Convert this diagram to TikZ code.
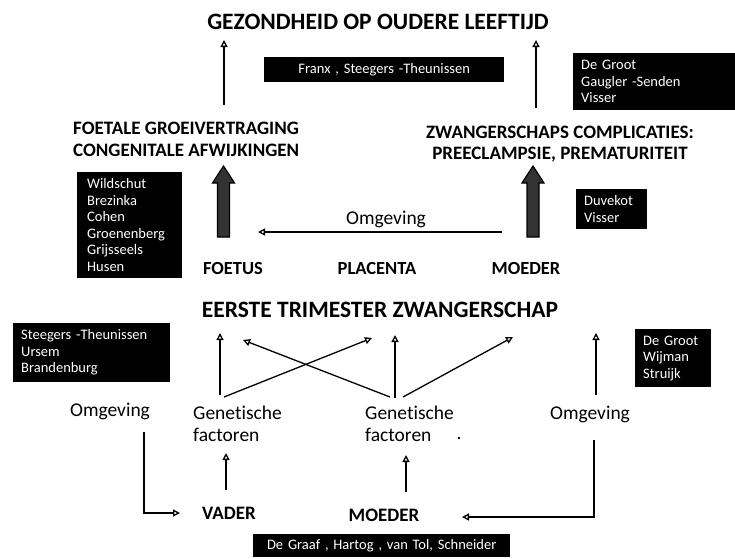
\documentclass[tikz,border=0pt]{standalone}
\usepackage{fontspec}
\setmainfont{Carlito}[Ligatures={NoCommon,NoContextual}]
\usetikzlibrary{arrows.meta,calc}
\begin{document}
\begin{tikzpicture}[x=1pt,y=-1pt,
  lbl/.style={inner sep=0pt,text depth=0pt},
  ttl/.style={lbl,font=\fontsize{23.5}{26}\selectfont\bfseries,text height=15.1pt},
  hd/.style={inner sep=0pt,font=\fontsize{19}{22}\selectfont\bfseries},
  sm/.style={lbl,font=\fontsize{18.5}{22}\selectfont\bfseries,text height=11.9pt},
  rg/.style={inner sep=0pt,font=\fontsize{19.5}{22}\selectfont},
  blk/.style={fill=black,text=white,inner ysep=0pt,anchor=north west,font=\fontsize{14.5}{16.5}\selectfont,align=left},
  arr/.style={line width=1.3pt,-{Triangle[open,length=7pt,width=7pt]}},
  fat/.style={draw=black,line width=1.2pt,fill=black!80}
]
\useasboundingbox (0,0) rectangle (735,558);

% black reference boxes
\node[blk,inner xsep=10pt,text width=85pt,minimum height=106pt] (bN) at (77,172) {Wildschut\\Brezinka\\Cohen\\Groenenberg\\Grijsseels\\Husen};
\node[blk,inner xsep=0pt,text width=240pt,align=center,minimum height=25pt] (bF) at (264,57) {Franx , Steegers -Theunissen};
\node[blk,inner xsep=8pt,text width=146pt,minimum height=57pt] (bG1) at (573,53) {De Groot\\Gaugler -Senden\\Visser};
\node[blk,inner xsep=8pt,text width=55pt,minimum height=40pt] (bD) at (576,189) {Duvekot\\Visser};
\node[blk,inner xsep=8pt,text width=141pt,minimum height=59pt] (bS) at (13,323) {Steegers -Theunissen\\Ursem\\Brandenburg};
\node[blk,inner xsep=8pt,text width=60pt,minimum height=58pt] (bG2) at (635,329) {De Groot\\Wijman\\Struijk};
\node[blk,inner xsep=0pt,text width=257pt,align=center,minimum height=23pt] (bH) at (253,534) {De Graaf , Hartog , van Tol, Schneider};

% labels
\node[ttl,anchor=base] (title) at (378,29.6) {GEZONDHEID OP OUDERE LEEFTIJD};
\node[hd,anchor=north west,align=left] (foetale) at (73,121.9) {FOETALE GROEIVERTRAGING\\CONGENITALE AFWIJKINGEN};
\node[hd,anchor=north,align=center,font=\fontsize{19}{21}\selectfont\bfseries] (zwang) at (560,125.8) {ZWANGERSCHAPS COMPLICATIES:\\PREECLAMPSIE, PREMATURITEIT};
\node[sm,anchor=base] (foetus) at (233,274) {FOETUS};
\node[sm,anchor=base] (placenta) at (377,274) {PLACENTA};
\node[sm,anchor=base] (moederA) at (526,274) {MOEDER};
\node[rg,anchor=base] (omgA) at (386,224.3) {Omgeving};
\node[ttl,anchor=base] (eerste) at (380,317.6) {EERSTE TRIMESTER ZWANGERSCHAP};
\node[rg,anchor=base] (omgL) at (110,416.5) {Omgeving};
\node[rg,anchor=north west,align=left] (genL) at (193,405.7) {Genetische\\factoren};
\node[rg,anchor=north west,align=left] (genM) at (365,405.7) {Genetische\\factoren};
\node[rg,anchor=base] (dot) at (459,439) {.};
\node[rg,anchor=base] (omgR) at (590,419.5) {Omgeving};
\node[hd,anchor=base] (vader) at (229,519.6) {VADER};
\node[hd,anchor=base] (moederB) at (384,521.5) {MOEDER};

% top arrows
\draw[arr] ($(foetale.north west)+(151,-16.9)$) -- ($(title.base)+(-154,10.4)$);
\draw[arr] ($(zwang.north)+(-24,-17.8)$) -- ($(title.base)+(158,10.4)$);

% thick arrows
\draw[fat] ($(foetus.base)+(-15.5,-37)$) -- ++(0,-54) -- ++(-5,0) -- ++(11,-17) -- ++(11,17) -- ++(-5,0) -- ++(0,54) -- cycle;
\draw[fat] ($(moederA.base)+(1,-37)$) -- ++(0,-54) -- ++(-5,0) -- ++(11,-17) -- ++(11,17) -- ++(-5,0) -- ++(0,54) -- cycle;

% placenta arrow
\draw[arr] ($(moederA.base)+(-24,-42)$) -- ($(foetus.base)+(25,-42)$);

% first trimester arrows
\draw[arr] ($(genL.north west)+(27,-10.7)$) -- ($(eerste.base)+(-160,15.4)$);
\draw[arr] ($(genL.north west)+(31,-8.7)$) -- ($(eerste.base)+(-8,20.4)$);
\draw[arr] ($(genM.north west)+(25,-8.7)$) -- ($(eerste.base)+(-137,22.4)$);
\draw[arr] ($(genM.north west)+(30,-7.7)$) -- ($(eerste.base)+(15,17.4)$);
\draw[arr] ($(genM.north west)+(38,-8.7)$) -- ($(eerste.base)+(133,19.4)$);
\draw[arr] ($(omgR.base)+(6,-24.5)$) -- ($(eerste.base)+(216,15.4)$);

% parents
\draw[arr] ($(vader.base)+(-3,-29.6)$) -- ($(genL.north west)+(33,47.3)$);
\draw[arr] ($(moederB.base)+(22,-29.5)$) -- ($(genM.north west)+(41,49.3)$);
\draw[arr] ($(omgL.base)+(34,15.5)$) |- ($(vader.base)+(-49,-6.6)$);
\draw[arr] ($(omgR.base)+(4,20.5)$) |- ($(moederB.base)+(78,-4.5)$);
\end{tikzpicture}
\end{document}
